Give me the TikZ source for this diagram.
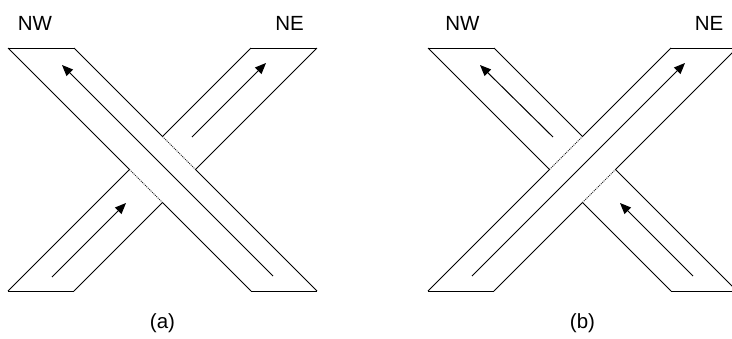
\documentclass[tikz,border=0pt]{standalone}
\usepackage{fontspec}
\setmainfont{Liberation Sans}
\usetikzlibrary{arrows.meta}
\begin{document}
\begin{tikzpicture}[x=1pt,y=-1pt,
  edge/.style={draw=black,line width=1pt},
  hidden/.style={draw=black!85,line width=0.9pt,dash pattern=on 1pt off 1pt},
  flow/.style={draw=black,line width=1pt,-{Triangle[length=11pt,width=9pt]}},
  lbl/.style={font=\fontsize{20.5}{24}\selectfont,inner sep=0pt}]
\useasboundingbox (0,0) rectangle (732,338);
\fill[white] (0,0) rectangle (732,338);

% ---------- panel (a): NW-SE band over ----------
\coordinate (aA1) at (8,48);   \coordinate (aA2) at (251,291);
\coordinate (aB1) at (74,48);  \coordinate (aB2) at (317,291);
\coordinate (aC1) at (8,291);  \coordinate (aC2) at (251,48);
\coordinate (aD1) at (74,291); \coordinate (aD2) at (317,48);
\coordinate (aAC) at (intersection of aA1--aA2 and aC1--aC2);
\coordinate (aAD) at (intersection of aA1--aA2 and aD1--aD2);
\coordinate (aBC) at (intersection of aB1--aB2 and aC1--aC2);
\coordinate (aBD) at (intersection of aB1--aB2 and aD1--aD2);
\draw[edge] (aA1) -- (aB1);
\draw[edge] (aA2) -- (aB2);
\draw[edge] (aC1) -- (aD1);
\draw[edge] (aC2) -- (aD2);
\draw[edge] (aA1) -- (aAC); \draw[hidden] (aAC) -- (aAD); \draw[edge] (aAD) -- (aA2);
\draw[edge] (aB1) -- (aBC); \draw[hidden] (aBC) -- (aBD); \draw[edge] (aBD) -- (aB2);
\draw[edge] (aC1) -- (aAC); \draw[edge] (aBC) -- (aC2);
\draw[edge] (aD1) -- (aAD); \draw[edge] (aBD) -- (aD2);
\coordinate (aF1s) at (273,276); \coordinate (aF1e) at (62,65);
\coordinate (aF2s) at (52,277);  \coordinate (aF2e) at (126,203);
\coordinate (aF3s) at (192,137); \coordinate (aF3e) at (266,63);
\draw[flow] (aF1s) -- (aF1e);
\draw[flow] (aF2s) -- (aF2e);
\draw[flow] (aF3s) -- (aF3e);
\node[lbl] (aNW) at (35,23.3) {NW};
\node[lbl] (aNE) at (289.5,23.3) {NE};
\node[lbl] (acap) at (162.5,323.5) {(a)};

% ---------- panel (b): NE-SW band over ----------
\coordinate (bA1) at (428,48);  \coordinate (bA2) at (671,291);
\coordinate (bB1) at (494,48);  \coordinate (bB2) at (737,291);
\coordinate (bC1) at (428,291); \coordinate (bC2) at (671,48);
\coordinate (bD1) at (494,291); \coordinate (bD2) at (737,48);
\coordinate (bAC) at (intersection of bA1--bA2 and bC1--bC2);
\coordinate (bAD) at (intersection of bA1--bA2 and bD1--bD2);
\coordinate (bBC) at (intersection of bB1--bB2 and bC1--bC2);
\coordinate (bBD) at (intersection of bB1--bB2 and bD1--bD2);
\draw[edge] (bA1) -- (bB1);
\draw[edge] (bA2) -- (bB2);
\draw[edge] (bC1) -- (bD1);
\draw[edge] (bC2) -- (bD2);
\draw[edge] (bC1) -- (bAC); \draw[hidden] (bAC) -- (bBC); \draw[edge] (bBC) -- (bC2);
\draw[edge] (bD1) -- (bAD); \draw[hidden] (bAD) -- (bBD); \draw[edge] (bBD) -- (bD2);
\draw[edge] (bA1) -- (bAC); \draw[edge] (bAD) -- (bA2);
\draw[edge] (bB1) -- (bBC); \draw[edge] (bBD) -- (bB2);
\coordinate (bF1s) at (472,276); \coordinate (bF1e) at (685,63);
\coordinate (bF2s) at (553,137); \coordinate (bF2e) at (480,65);
\coordinate (bF3s) at (693,276); \coordinate (bF3e) at (620,203);
\draw[flow] (bF1s) -- (bF1e);
\draw[flow] (bF2s) -- (bF2e);
\draw[flow] (bF3s) -- (bF3e);
\node[lbl] (bNW) at (462.5,23.3) {NW};
\node[lbl] (bNE) at (709,23.3) {NE};
\node[lbl] (bcap) at (582.5,323.5) {(b)};
\end{tikzpicture}
\end{document}
